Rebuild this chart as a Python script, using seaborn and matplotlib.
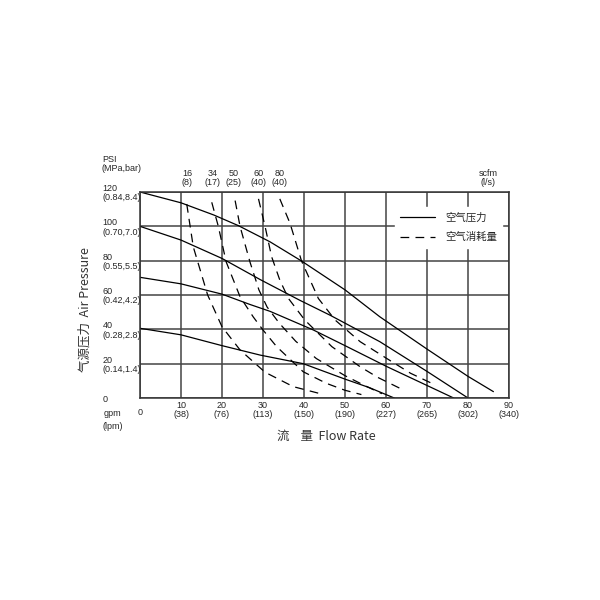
import numpy as np
import pandas as pd
import matplotlib
matplotlib.use("Agg")
import matplotlib.pyplot as plt
import matplotlib.transforms as mtransforms
from matplotlib.lines import Line2D
import seaborn as sns

# Axis ticks
gpm_ticks = [0, 10, 20, 30, 40, 50, 60, 70, 80, 90]
lpm_labels = ["", "38", "76", "113", "150", "190", "227", "265", "302", "340"]
psi_ticks = [0, 20, 40, 60, 80, 100, 120]
mpa_bar_labels = ["", "0.14,1.4", "0.28,2.8", "0.42,4.2", "0.55,5.5", "0.70,7.0", "0.84,8.4"]

# Air consumption labels along the top
scfm_pos = [11.5, 17.6, 22.9, 28.8, 34.1]
scfm_labels = ["16", "34", "50", "60", "80"]
ls_labels = ["8", "17", "25", "40", "40"]

# Air pressure curves (solid)
p120_x = [0, 10, 18, 24, 31.7, 39.4, 50, 58.5, 70, 80, 86.2]
p120_y = [120, 113.7, 106.6, 100.4, 91, 79.8, 63, 47.3, 28.5, 12.6, 3.7]
p100_x = [0, 10, 20, 29.3, 39, 46.3, 58.5, 70, 80]
p100_y = [100, 92, 81.3, 69, 56.9, 48.3, 32.8, 15.5, 0]
p60_x = [0, 10, 20, 26.8, 31.7, 42.3, 50, 60.2, 76.5]
p60_y = [70.3, 66.5, 60.5, 54.5, 50.5, 39.6, 30.5, 18.3, 0]
p40_x = [0, 10, 20, 29.3, 39.8, 50, 56, 62]
p40_y = [40.6, 36.8, 30.5, 25, 20, 11, 6, 0]

# Air consumption curves (dashed)
c16_x = [11.4, 13, 16.5, 20, 24.4, 30.5, 37.4, 44]
c16_y = [113, 88, 60, 41.5, 28, 15, 6.6, 2.5]
c34_x = [17.5, 19.1, 21, 24.4, 27.6, 30, 33.3, 39.8, 45.5, 50, 54]
c34_y = [114, 100, 79.4, 59, 47.3, 39.6, 30, 15.3, 8.5, 4.5, 2]
c50_x = [23.2, 24.4, 26.8, 29, 31, 34, 38, 43, 50, 55, 59]
c50_y = [115, 100, 79.4, 63, 53, 43.5, 33, 23, 13, 7, 2.5]
c60_x = [28.9, 30.5, 32.1, 34.1, 36.2, 40.2, 46.8, 53.7, 58, 64.2]
c60_y = [116, 100, 82.3, 68.7, 58, 45.4, 29.9, 18.2, 12, 4.7]
c80_x = [34.1, 36.6, 39.4, 43.5, 47.6, 53.7, 60.2, 66, 72]
c80_y = [116, 101.7, 79.8, 58, 45.4, 32.8, 23, 14.4, 7.6]

sns.set_theme(style="white")
plt.rcParams["font.family"] = ["Liberation Sans Narrow", "Liberation Sans", "DejaVu Sans"]
cjk = ["Noto Sans CJK SC", "DejaVu Sans"]
dash = (0, (7, 5))

fig = plt.figure(figsize=(6, 6), dpi=100)
ax = fig.add_axes([140 / 600, 202 / 600, 369 / 600, 206 / 600])

for xs, ys in [(p120_x, p120_y), (p100_x, p100_y), (p60_x, p60_y), (p40_x, p40_y)]:
    sns.lineplot(x=xs, y=ys, ax=ax, color="black", lw=0.9, sort=False, estimator=None)
for xs, ys in [(c16_x, c16_y), (c34_x, c34_y), (c50_x, c50_y), (c60_x, c60_y), (c80_x, c80_y)]:
    sns.lineplot(x=xs, y=ys, ax=ax, color="black", lw=0.9, sort=False, estimator=None,
                 linestyle=dash)

ax.set_xlim(0, 90)
ax.set_ylim(0, 120)
ax.grid(True, color="#444444", lw=1.1)
ax.set_axisbelow(True)
for sp in ax.spines.values():
    sp.set_color("#333333")
    sp.set_linewidth(1.1)

# x tick labels
ax.set_xticks(gpm_ticks)
ax.set_xticklabels([str(g) if l == "" else f"{g}\n({l})" for g, l in zip(gpm_ticks, lpm_labels)],
                   fontsize=6.5, linespacing=1.05)
ax.tick_params(axis="x", length=0, pad=2)
lab0 = ax.get_xticklabels()[0]
lab0.set_transform(lab0.get_transform() + mtransforms.ScaledTranslation(0, -5 / 72, fig.dpi_scale_trans))

# y tick labels
ax.set_yticks(psi_ticks)
ax.set_yticklabels([str(p) if m == "" else f"{p}\n({m})" for p, m in zip(psi_ticks, mpa_bar_labels)],
                   fontsize=6.5, linespacing=1.05, ha="left")
ax.tick_params(axis="y", length=0, pad=27)

# top labels
for xp, s, l in zip(scfm_pos, scfm_labels, ls_labels):
    ax.text(xp, 1.068, f"{s}\n({l})", transform=ax.get_xaxis_transform(),
            ha="center", va="center", fontsize=6.5, linespacing=1.05)
ax.text(0.943, 1.068, "scfm\n(l/s)", transform=ax.transAxes, ha="center", va="center",
        fontsize=6.5, linespacing=1.05)
ax.text(-0.103, 1.136, "PSI\n(MPa,bar)", transform=ax.transAxes, ha="left", va="center",
        fontsize=6.5, linespacing=1.05)
ax.text(-0.05, -0.075, "gpm", transform=ax.transAxes, ha="right", va="center", fontsize=6.5)
ax.text(-0.046, -0.136, "(lpm)", transform=ax.transAxes, ha="right", va="center", fontsize=6.5)

# axis titles
ax.text(-0.148, 0.427, "气源压力  Air Pressure", transform=ax.transAxes, rotation=90,
        ha="center", va="center", fontsize=9, family=cjk, color="#333333")
ax.text(0.504, -0.184, "流    量  Flow Rate", transform=ax.transAxes,
        ha="center", va="center", fontsize=9, family=cjk, color="#333333")

handles = [Line2D([], [], color="black", lw=0.9),
           Line2D([], [], color="black", lw=0.9, linestyle=dash)]
leg = ax.legend(handles, ["空气压力", "空气消耗量"], loc="upper right",
                bbox_to_anchor=(0.995, 0.951), frameon=True, fancybox=False,
                facecolor="white", edgecolor="white", framealpha=1,
                handlelength=3.4, handletextpad=0.9, borderpad=0.5, labelspacing=0.9,
                prop={"family": cjk, "size": 7.5})

fig.savefig("out.png", dpi=100, facecolor="white")
